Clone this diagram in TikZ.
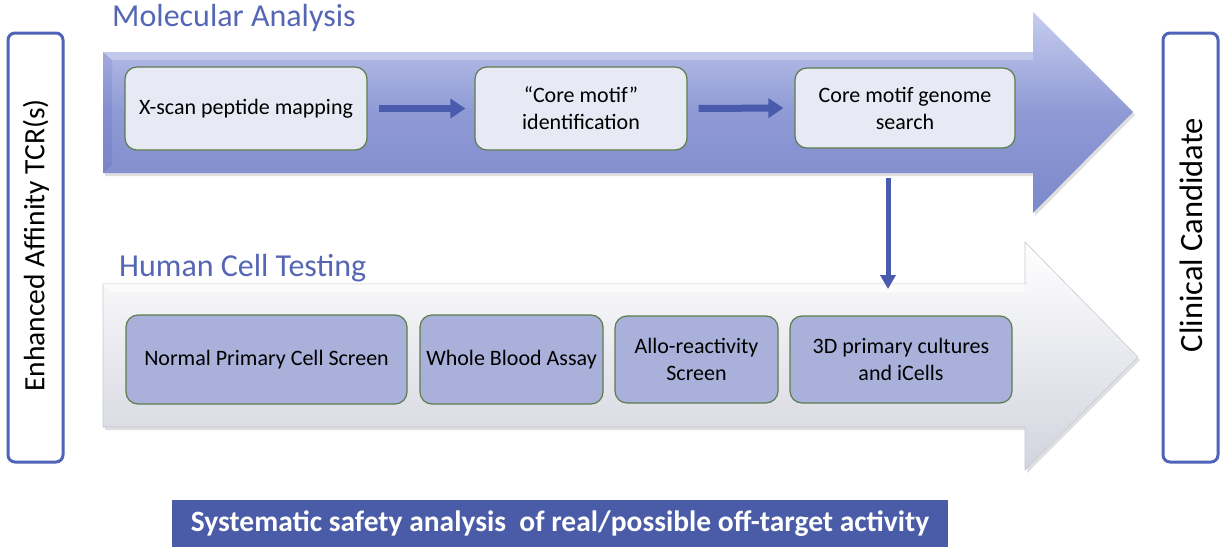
\documentclass[tikz,border=0pt]{standalone}
\usepackage{fontspec}
\setmainfont{Carlito}
\usetikzlibrary{arrows.meta,shadows}
\definecolor{titleblue}{HTML}{5567B4}
\definecolor{arrowblue}{HTML}{4A5BAE}
\definecolor{boxgreen}{HTML}{5E7B4C}
\definecolor{lightbox}{HTML}{E7E9F5}
\definecolor{midbox}{HTML}{A9B1DA}
\definecolor{bannerblue}{HTML}{4A5BA8}
\definecolor{sideblue}{HTML}{4F63B8}
\definecolor{topA}{HTML}{C6CCEE}
\definecolor{topB}{HTML}{8F9AD5}
\definecolor{topC}{HTML}{7C89CA}
\definecolor{lowB}{HTML}{F3F3F7}
\definecolor{lowC}{HTML}{D2D4DE}
\definecolor{lowEdge}{HTML}{C6C8D2}
\begin{document}
\begin{tikzpicture}[x=1pt,y=-1pt,
  toptext/.style={font=\fontsize{32}{36}\selectfont, text=titleblue, anchor=base west, inner sep=0pt},
  sidebox/.style={draw=sideblue, line width=3pt, rounded corners=7pt, fill=white},
  sidetext/.style={rotate=90, inner sep=0pt},
  stepbox/.style={draw=boxgreen, line width=1.2pt, rounded corners=12pt, align=center, inner sep=2pt,
     font=\fontsize{22}{27}\selectfont},
  upbox/.style={stepbox, fill=lightbox},
  lowbox/.style={stepbox, fill=midbox},
  flow/.style={arrowblue, line width=7pt, -{Triangle[length=15pt,width=19pt]}},
  vflow/.style={arrowblue, line width=5pt, -{Triangle[length=14pt,width=15pt]}},
]
\useasboundingbox (0,0) rectangle (1223,546);

% big top arrow
\shade[top color=topA, bottom color=topC, middle color=topB, drop shadow={opacity=0.25, shadow xshift=2pt, shadow yshift=-3pt}]
  (103,52) -- (1033,52) -- (1033,12) -- (1133,112) -- (1033,213) -- (1033,173) -- (103,173) -- cycle;
\fill[white, opacity=0.25] (103,52) -- (1033,52) -- (1033,60) -- (112,60) -- cycle;
\fill[black!40!blue, opacity=0.08] (103,52) -- (112,60) -- (112,165) -- (103,173) -- cycle;

% big bottom arrow
\shade[top color=white, middle color=lowB, bottom color=lowC, draw=lowEdge, line width=0.6pt,
  drop shadow={opacity=0.25, shadow xshift=2pt, shadow yshift=-3pt}]
  (103,284) -- (1025,284) -- (1025,242) -- (1138,357) -- (1025,470) -- (1025,427) -- (103,427) -- cycle;
\fill[white, opacity=0.6] (103,284) -- (1025,284) -- (1025,292) -- (111,292) -- cycle;

% titles
\node[toptext] (tma) at (112,27) {Molecular Analysis};
\node[toptext] (thc) at (119,276) {Human Cell Testing};

% side boxes
\draw[sidebox] (8,33) rectangle (63,462);
\node[sidetext, font=\fontsize{29.5}{34}\selectfont] (enh) at (36,245.5) {Enhanced Affinity TCR(s)};
\draw[sidebox] (1163,33) rectangle (1218,462);
\node[sidetext, font=\fontsize{32.5}{36}\selectfont] (cli) at (1191,235) {Clinical Candidate};

% top row
\node[upbox, minimum width=242pt, minimum height=83pt] (b1) at (246,108.5) {X-scan peptide mapping};
\node[upbox, minimum width=212pt, minimum height=83pt] (b2) at (581,108.5) {“Core motif”\\identification};
\node[upbox, minimum width=220pt, minimum height=80pt] (b3) at (905,108) {Core motif genome\\search};
\draw[flow, shorten <=11pt, shorten >=9pt] (b1.east) -- (b2.west);
\draw[flow, shorten <=11pt, shorten >=11pt] (b2.east) -- (b3.west);

% bottom row
\node[lowbox, minimum width=281pt, minimum height=89pt] (c1) at (266.5,359.5) {Normal Primary Cell Screen};
\node[lowbox, minimum width=183pt, minimum height=89pt] (c2) at (511.5,359.5) {Whole Blood Assay};
\node[lowbox, minimum width=163pt, minimum height=87pt] (c3) at (696.5,359.5) {Allo-reactivity\\Screen};
\node[lowbox, minimum width=222pt, minimum height=87pt] (c4) at (901,359.5) {3D primary cultures\\and iCells};

% vertical arrow
\coordinate (vstart) at (888,178);
\coordinate (vend) at (888,289);
\draw[vflow] (vstart) -- (vend);

% banner
\node[fill=bannerblue, minimum width=776pt, minimum height=48pt, inner sep=0pt, text=white,
  font=\fontsize{29.5}{34}\selectfont\bfseries] (ban) at (560,524) {Systematic safety analysis \ of real/possible off-target activity};
\end{tikzpicture}
\end{document}
